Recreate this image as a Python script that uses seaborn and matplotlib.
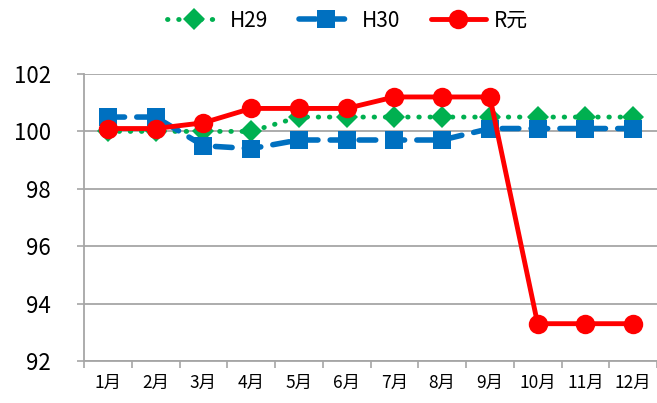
import numpy as np
import pandas as pd
import matplotlib
matplotlib.use("Agg")
import matplotlib.pyplot as plt
import seaborn as sns

# data
months = ["1月", "2月", "3月", "4月", "5月", "6月", "7月", "8月", "9月", "10月", "11月", "12月"]
h29 = [100.0, 100.0, 100.0, 100.0, 100.5, 100.5, 100.5, 100.5, 100.5, 100.5, 100.5, 100.5]
h30 = [100.5, 100.5, 99.5, 99.4, 99.7, 99.7, 99.7, 99.7, 100.1, 100.1, 100.1, 100.1]
r1 = [100.1, 100.1, 100.3, 100.8, 100.8, 100.8, 101.2, 101.2, 101.2, 93.3, 93.3, 93.3]

sns.set_theme(style="white")
plt.rcParams['font.family'] = ['Noto Sans CJK JP', 'DejaVu Sans']
plt.rcParams['text.color'] = "black"
plt.rcParams['xtick.labelcolor'] = "black"
plt.rcParams['ytick.labelcolor'] = "black"

df = pd.DataFrame({"idx": np.arange(len(months)), "H29": h29, "H30": h30, "R元": r1})

fig = plt.figure(figsize=(6.57, 4.03), dpi=100)
ax = fig.add_axes([84 / 657, 42 / 403, 573 / 657, 287 / 403])

# gridlines under the data
ax.set_axisbelow(True)
ax.yaxis.grid(True, color="#a6a6a6", linewidth=1.3)

sns.lineplot(data=df, x="idx", y="H29", ax=ax, color="#00B050", linewidth=3.5,
             linestyle=(0, (0.1, 2.2)), marker="D", markersize=11, markeredgewidth=0, label="H29")
sns.lineplot(data=df, x="idx", y="H30", ax=ax, color="#0070C0", linewidth=4,
             linestyle=(0, (3, 2.2)), marker="s", markersize=13, markeredgewidth=0, label="H30")
sns.lineplot(data=df, x="idx", y="R元", ax=ax, color="#FF0000", linewidth=3.5,
             marker="o", markersize=14, markeredgewidth=0, label="R元")

# rounded dash ends
for ln in ax.get_lines():
    ln.set_dash_capstyle("round")

ax.set_xlim(-0.5, len(months) - 0.5)
ax.set_ylim(92, 102)
ax.set_yticks(np.arange(92, 103, 2))
ax.set_xticks(np.arange(-0.5, len(months), 1))
ax.set_xticklabels([])
ax.set_xticks(np.arange(len(months)), minor=True)
ax.set_xticklabels(months, minor=True)
ax.tick_params(axis="x", which="major", length=5, width=1.2, color="#a6a6a6", direction="out", bottom=True)
ax.tick_params(axis="x", which="minor", length=0, pad=9, labelsize=12.5)
ax.tick_params(axis="y", length=5, width=1.2, color="#a6a6a6", direction="out", left=True, labelsize=16, pad=19)
ax.set_xlabel("")
ax.set_ylabel("")

for s in ["top", "right"]:
    ax.spines[s].set_visible(False)
for s in ["left", "bottom"]:
    ax.spines[s].set_color("#a6a6a6")
    ax.spines[s].set_linewidth(1.3)

leg = ax.legend(loc="upper center", bbox_to_anchor=(0.46, 1.29), ncol=3, frameon=False,
                fontsize=15, handlelength=2.6, columnspacing=1.5, handletextpad=0.4)

fig.savefig("out.png", dpi=100)
